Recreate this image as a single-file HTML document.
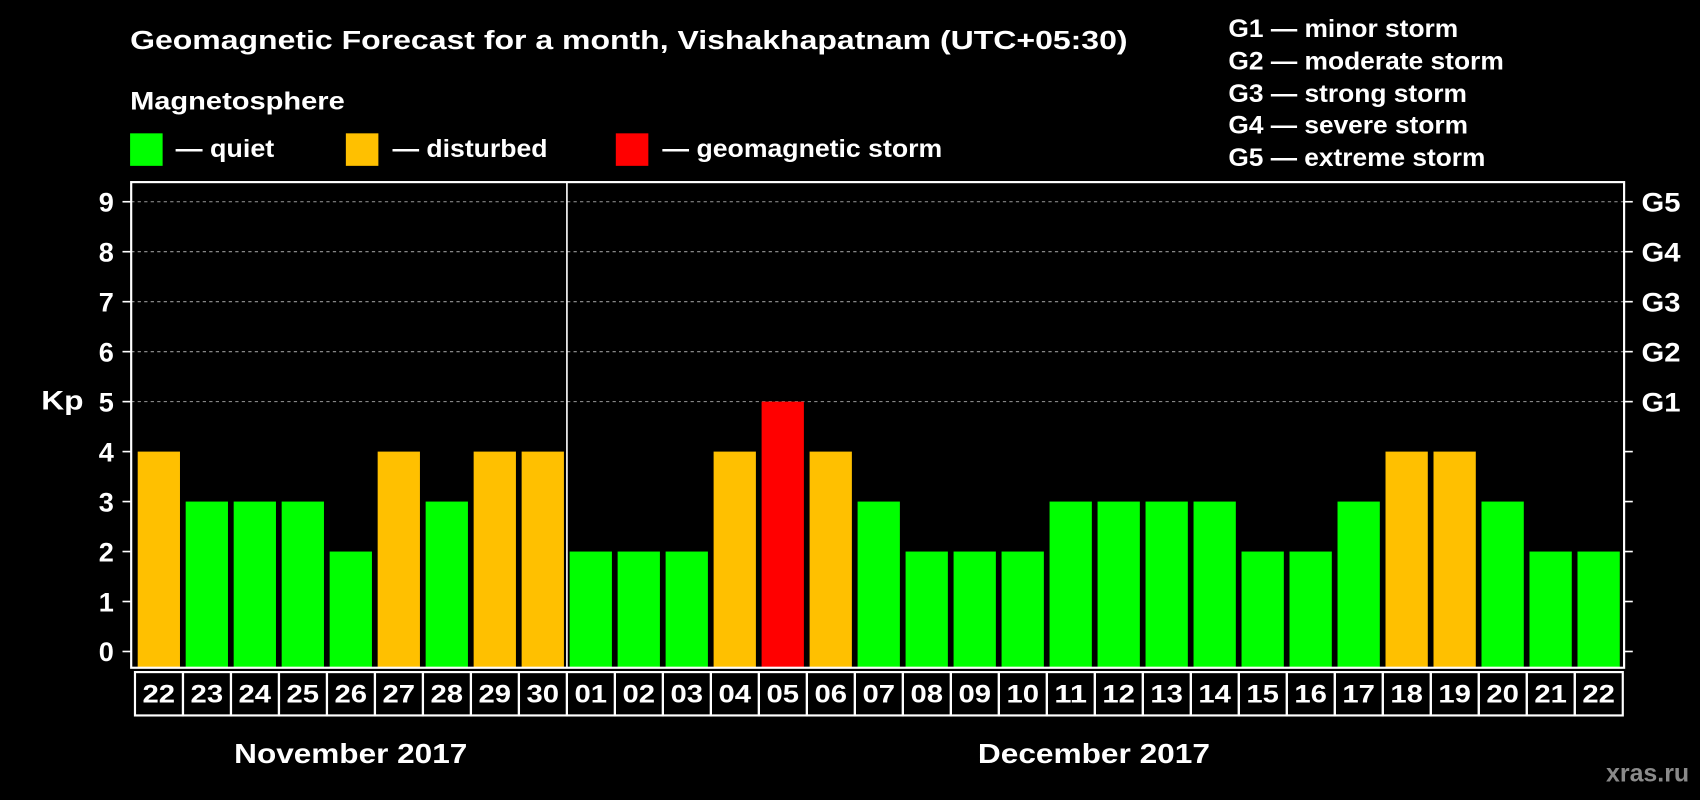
<!DOCTYPE html>
<html><head><meta charset="utf-8"><style>
html,body{margin:0;padding:0;background:#000;width:1700px;height:800px;overflow:hidden}
svg{display:block}
text{font-family:"Liberation Sans",Arial,sans-serif;font-weight:bold;fill:#fff}
</style></head><body>
<svg id="chart" width="1700" height="800" viewBox="0 0 1568 738" preserveAspectRatio="none" xmlns="http://www.w3.org/2000/svg">
<rect width="1568" height="738" fill="#000"/>
<text x="120" y="45" font-size="24" textLength="920" lengthAdjust="spacingAndGlyphs">Geomagnetic Forecast for a month, Vishakhapatnam (UTC+05:30)</text>
<text x="120" y="101" font-size="23" textLength="198" lengthAdjust="spacingAndGlyphs">Magnetosphere</text>
<g><rect x="120" y="123" width="30" height="30" fill="#00ff00"/><text x="162" y="145" font-size="23" textLength="91" lengthAdjust="spacingAndGlyphs">— quiet</text></g>
<g><rect x="319" y="123" width="30" height="30" fill="#ffc000"/><text x="362" y="145" font-size="23" textLength="143" lengthAdjust="spacingAndGlyphs">— disturbed</text></g>
<g><rect x="568" y="123" width="30" height="30" fill="#ff0000"/><text x="611" y="145" font-size="23" textLength="258" lengthAdjust="spacingAndGlyphs">— geomagnetic storm</text></g>
<g font-size="23">
<text x="1133" y="34" textLength="212" lengthAdjust="spacingAndGlyphs">G1 — minor storm</text>
<text x="1133" y="64" textLength="254" lengthAdjust="spacingAndGlyphs">G2 — moderate storm</text>
<text x="1133" y="94" textLength="220" lengthAdjust="spacingAndGlyphs">G3 — strong storm</text>
<text x="1133" y="123" textLength="221" lengthAdjust="spacingAndGlyphs">G4 — severe storm</text>
<text x="1133" y="153" textLength="237" lengthAdjust="spacingAndGlyphs">G5 — extreme storm</text>
</g>
<text x="38" y="378" font-size="25" textLength="39" lengthAdjust="spacingAndGlyphs">Kp</text>
<g id="plot"></g>
<text x="216" y="704" font-size="26" textLength="215" lengthAdjust="spacingAndGlyphs">November 2017</text>
<text x="902" y="704" font-size="26" textLength="214" lengthAdjust="spacingAndGlyphs">December 2017</text>
<text x="1558" y="721" font-size="23" text-anchor="end" style="fill:#8a8a8a">xras.ru</text>
</svg>
<script>
const days = ["22","23","24","25","26","27","28","29","30","01","02","03","04","05","06","07","08","09","10","11","12","13","14","15","16","17","18","19","20","21","22"];
const kpValues = [4,3,3,3,2,4,3,4,4,2,2,2,4,5,4,3,2,2,2,3,3,3,3,2,2,3,4,4,3,2,2];
const yTicks = [0,1,2,3,4,5,6,7,8,9];
const gLabels = ["G1","G2","G3","G4","G5"];
const monthBreakIndex = 9;

const NS = "http://www.w3.org/2000/svg";
const plot = document.getElementById("plot");
const L = 121, R = 1498, T = 168, B = 616;
const y = v => 601 - v * 46.1;
const x0 = 127, pitch = (1455 - 127) / (days.length - 1), bw = 39;
const x = i => x0 + i * pitch;
function mk(tag, attrs) { const e = document.createElementNS(NS, tag); for (const k in attrs) e.setAttribute(k, attrs[k]); plot.appendChild(e); return e; }
function color(v) { return v >= 5 ? "#ff0000" : v >= 4 ? "#ffc000" : "#00ff00"; }

yTicks.forEach(t => {
  if (t >= 5) {
    const g = mk("line", {x1: L, x2: R, y1: y(t), y2: y(t), stroke: "#999", "stroke-dasharray": "3,3", "stroke-width": 1});
    
    
  }
  const tk = mk("line", {x1: L - 8, x2: L, y1: y(t), y2: y(t), stroke: "#fff", "stroke-width": 1.5});
  
  
  const tr = mk("line", {x1: R, x2: R + 8, y1: y(t), y2: y(t), stroke: "#fff", "stroke-width": 1.5});
  
  
  const lb = mk("text", {x: 105, y: y(t) + 9, "font-size": 25, "text-anchor": "end"});
  lb.textContent = t;
  
  
});
gLabels.forEach((g, i) => {
  const t = mk("text", {x: 1514, y: y(5 + i) + 9, "font-size": 25, textLength: 36, lengthAdjust: "spacingAndGlyphs"});
  t.textContent = g;
  
  
});
kpValues.forEach((v, i) => {
  const b = mk("rect", {x: x(i), y: y(v), width: bw, height: B - y(v), fill: color(v)});
  
  
  const bx = mk("rect", {x: x(i) - 2.5, y: 620, width: pitch, height: 40, fill: "none", stroke: "#fff", "stroke-width": 2});
  
  
  const t = mk("text", {x: x(i) + bw / 2 - 15, y: 648, "font-size": 23, textLength: 30, lengthAdjust: "spacingAndGlyphs"});
  t.textContent = days[i];
  
  
});
const sx = x(monthBreakIndex) - 2.5;
const sep = mk("line", {x1: sx, x2: sx, y1: T, y2: B, stroke: "#fff", "stroke-width": 1.5});


const frame = mk("rect", {x: L, y: T, width: R - L, height: B - T, fill: "none", stroke: "#fff", "stroke-width": 2});


</script>
</body></html>
